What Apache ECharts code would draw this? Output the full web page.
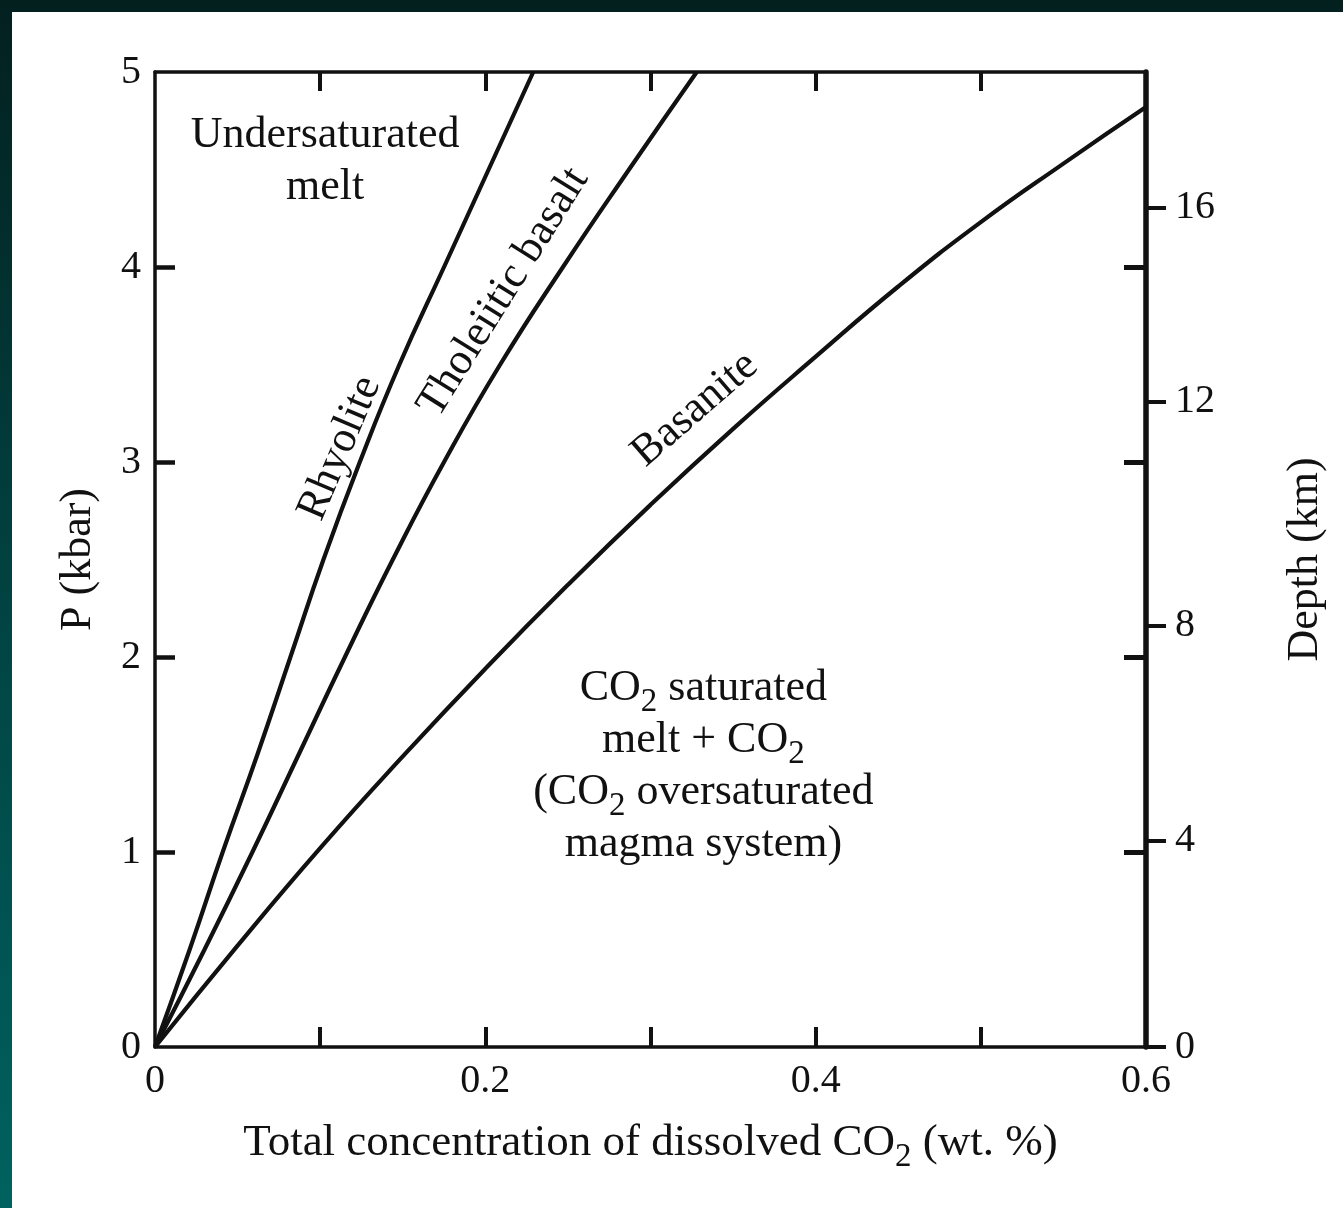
<!DOCTYPE html>
<html>
<head>
<meta charset="utf-8">
<script src="https://cdn.jsdelivr.net/npm/echarts@6/dist/echarts.min.js"></script>
<style>
  html, body { margin: 0; padding: 0; width: 1343px; height: 1208px; overflow: hidden;
    background: linear-gradient(to bottom, #03201f 0%, #01403f 45%, #006260 100%); }
  #paper { position: absolute; left: 12px; top: 12px; right: 0; bottom: 0; background: #ffffff; }
  #chart { position: absolute; left: 0; top: 0; width: 1343px; height: 1208px; }
</style>
</head>
<body>
<div id="paper"></div>
<div id="chart"></div>
<script>
// ---- data ----
// Pressure levels (kbar) for the rhyolite / tholeiitic curves
const pressureKbar = [0, 0.5, 1, 1.5, 2, 2.5, 3, 3.5, 4, 4.5, 5];
// dissolved CO2 (wt.%) at each pressure level
const rhyoliteCO2 = [0, 0.021, 0.041, 0.062, 0.082, 0.102, 0.124, 0.148, 0.175, 0.202, 0.229];
const tholeiiticCO2 = [0, 0.030, 0.059, 0.087, 0.115, 0.144, 0.175, 0.209, 0.247, 0.287, 0.328];
// basanite curve: CO2 (wt.%) and pressure (kbar)
const basaniteCO2 = [0, 0.05, 0.1, 0.15, 0.2, 0.25, 0.3, 0.35, 0.4, 0.45, 0.5, 0.55, 0.6];
const basaniteP   = [0, 0.52, 1.02, 1.49, 1.94, 2.37, 2.78, 3.17, 3.54, 3.90, 4.23, 4.53, 4.82];
// axis ticks
const xTickValues = [0.1, 0.2, 0.3, 0.4, 0.5];
const xLabelValues = [0, 0.2, 0.4, 0.6];
const pTickValues = [1, 2, 3, 4];
const depthKm = [0, 4, 8, 12, 16];
const depthAtP = [0, 1.06, 2.16, 3.31, 4.305];   // pressure (kbar) where each depth tick sits

const FONT = '"Liberation Serif", "Times New Roman", serif';
const INK = '#111111';

const chart = echarts.init(document.getElementById('chart'), null, { renderer: 'canvas' });

const pairs = (xs, ys) => xs.map((x, i) => [x, ys[i]]);
const lineStyle = { color: INK, width: 4.2 };

const richText = {
  n: { fontFamily: FONT, fontSize: 44, lineHeight: 52, color: INK },
  s: { fontFamily: FONT, fontSize: 33, lineHeight: 52, padding: [28, 0, 0, 0], color: INK }
};
const richAxis = {
  n: { fontFamily: FONT, fontSize: 45, lineHeight: 52, color: INK },
  s: { fontFamily: FONT, fontSize: 33, lineHeight: 52, padding: [28, 0, 0, 0], color: INK }
};

function textPoint(x, y, text, rotate) {
  return { value: [x, y], label: { formatter: text, rotate: rotate } };
}

const option = {
  backgroundColor: 'transparent',
  animation: false,
  grid: { left: 155, top: 72, right: 197, bottom: 161, containLabel: false },
  xAxis: [
    {
      type: 'value', position: 'bottom', min: 0, max: 0.6, interval: 0.1,
      axisLine: { show: true, onZero: false, lineStyle: { color: INK, width: 3.5 } },
      axisTick: { show: true, inside: true, length: 20, customValues: xTickValues, lineStyle: { color: INK, width: 4 } },
      axisLabel: { show: true, customValues: xLabelValues, margin: 14, color: INK, fontFamily: FONT, fontSize: 40,
        formatter: v => (Math.abs(v) < 1e-9 ? '0' : (+v.toFixed(1)).toString()) },
      splitLine: { show: false },
      name: '{n|Total concentration of dissolved CO}{s|2}{n| (wt. %)}',
      nameLocation: 'middle', nameGap: 70,
      nameTextStyle: { rich: richAxis }
    },
    {
      type: 'value', position: 'top', min: 0, max: 0.6, interval: 0.1,
      axisLine: { show: true, onZero: false, lineStyle: { color: INK, width: 3.5 } },
      axisTick: { show: true, inside: true, length: 19, customValues: xTickValues, lineStyle: { color: INK, width: 4 } },
      axisLabel: { show: false },
      splitLine: { show: false }
    }
  ],
  yAxis: [
    {
      type: 'value', position: 'left', min: 0, max: 5, interval: 1,
      axisLine: { show: true, onZero: false, lineStyle: { color: INK, width: 3.5 } },
      axisTick: { show: true, inside: true, length: 20, customValues: pTickValues, lineStyle: { color: INK, width: 4.5 } },
      axisLabel: { show: true, margin: 14, color: INK, fontFamily: FONT, fontSize: 40 },
      splitLine: { show: false },
      name: 'P (kbar)', nameLocation: 'middle', nameGap: 55, nameRotate: 90,
      nameTextStyle: { fontFamily: FONT, fontSize: 44, color: INK }
    },
    {
      type: 'value', position: 'right', min: 0, max: 5, interval: 1,
      axisLine: { show: true, onZero: false, lineStyle: { color: INK, width: 5.5 } },
      axisTick: { show: true, inside: true, length: 22, customValues: pTickValues, lineStyle: { color: INK, width: 5 } },
      axisLabel: { show: false },
      splitLine: { show: false }
    },
    {
      type: 'value', position: 'right', min: 0, max: 5,
      axisLine: { show: false, onZero: false },
      axisTick: { show: true, inside: false, length: 20, customValues: depthAtP, lineStyle: { color: INK, width: 4 } },
      axisLabel: { show: true, customValues: depthAtP, margin: 29, color: INK, fontFamily: FONT, fontSize: 40,
        formatter: v => {
          let best = 0;
          depthAtP.forEach((p, i) => { if (Math.abs(p - v) < Math.abs(depthAtP[best] - v)) best = i; });
          return String(depthKm[best]);
        } },
      splitLine: { show: false },
      name: 'Depth (km)', nameLocation: 'middle', nameGap: 137, nameRotate: 90,
      nameTextStyle: { fontFamily: FONT, fontSize: 44, color: INK }
    }
  ],
  series: [
    { name: 'Rhyolite', type: 'line', smooth: true, showSymbol: false, symbol: 'none',
      data: pairs(rhyoliteCO2, pressureKbar), lineStyle: lineStyle, clip: true },
    { name: 'Tholeiitic basalt', type: 'line', smooth: true, showSymbol: false, symbol: 'none',
      data: pairs(tholeiiticCO2, pressureKbar), lineStyle: lineStyle, clip: true },
    { name: 'Basanite', type: 'line', smooth: true, showSymbol: false, symbol: 'none',
      data: pairs(basaniteCO2, basaniteP), lineStyle: lineStyle, clip: true },
    {
      name: 'annotations', type: 'scatter', symbolSize: 0, silent: true,
      itemStyle: { opacity: 1 },
      label: { show: true, position: 'inside', color: INK, opacity: 1, fontFamily: FONT, fontSize: 44, lineHeight: 52,
        align: 'center', verticalAlign: 'middle', rich: richText },
      data: [
        textPoint(0.103, 4.54, '{n|Undersaturated}\n{n|melt}', 0),
        textPoint(0.112, 3.07, '{n|Rhyolite}', 67),
        textPoint(0.211, 3.87, '{n|Tholeiitic basalt}', 58),
        textPoint(0.327, 3.27, '{n|Basanite}', 41),
        textPoint(0.332, 1.44, '{n|CO}{s|2}{n| saturated}\n{n|melt + CO}{s|2}\n{n|(CO}{s|2}{n| oversaturated}\n{n|magma system)}', 0)
      ]
    }
  ]
};

chart.setOption(option);
</script>
</body>
</html>
